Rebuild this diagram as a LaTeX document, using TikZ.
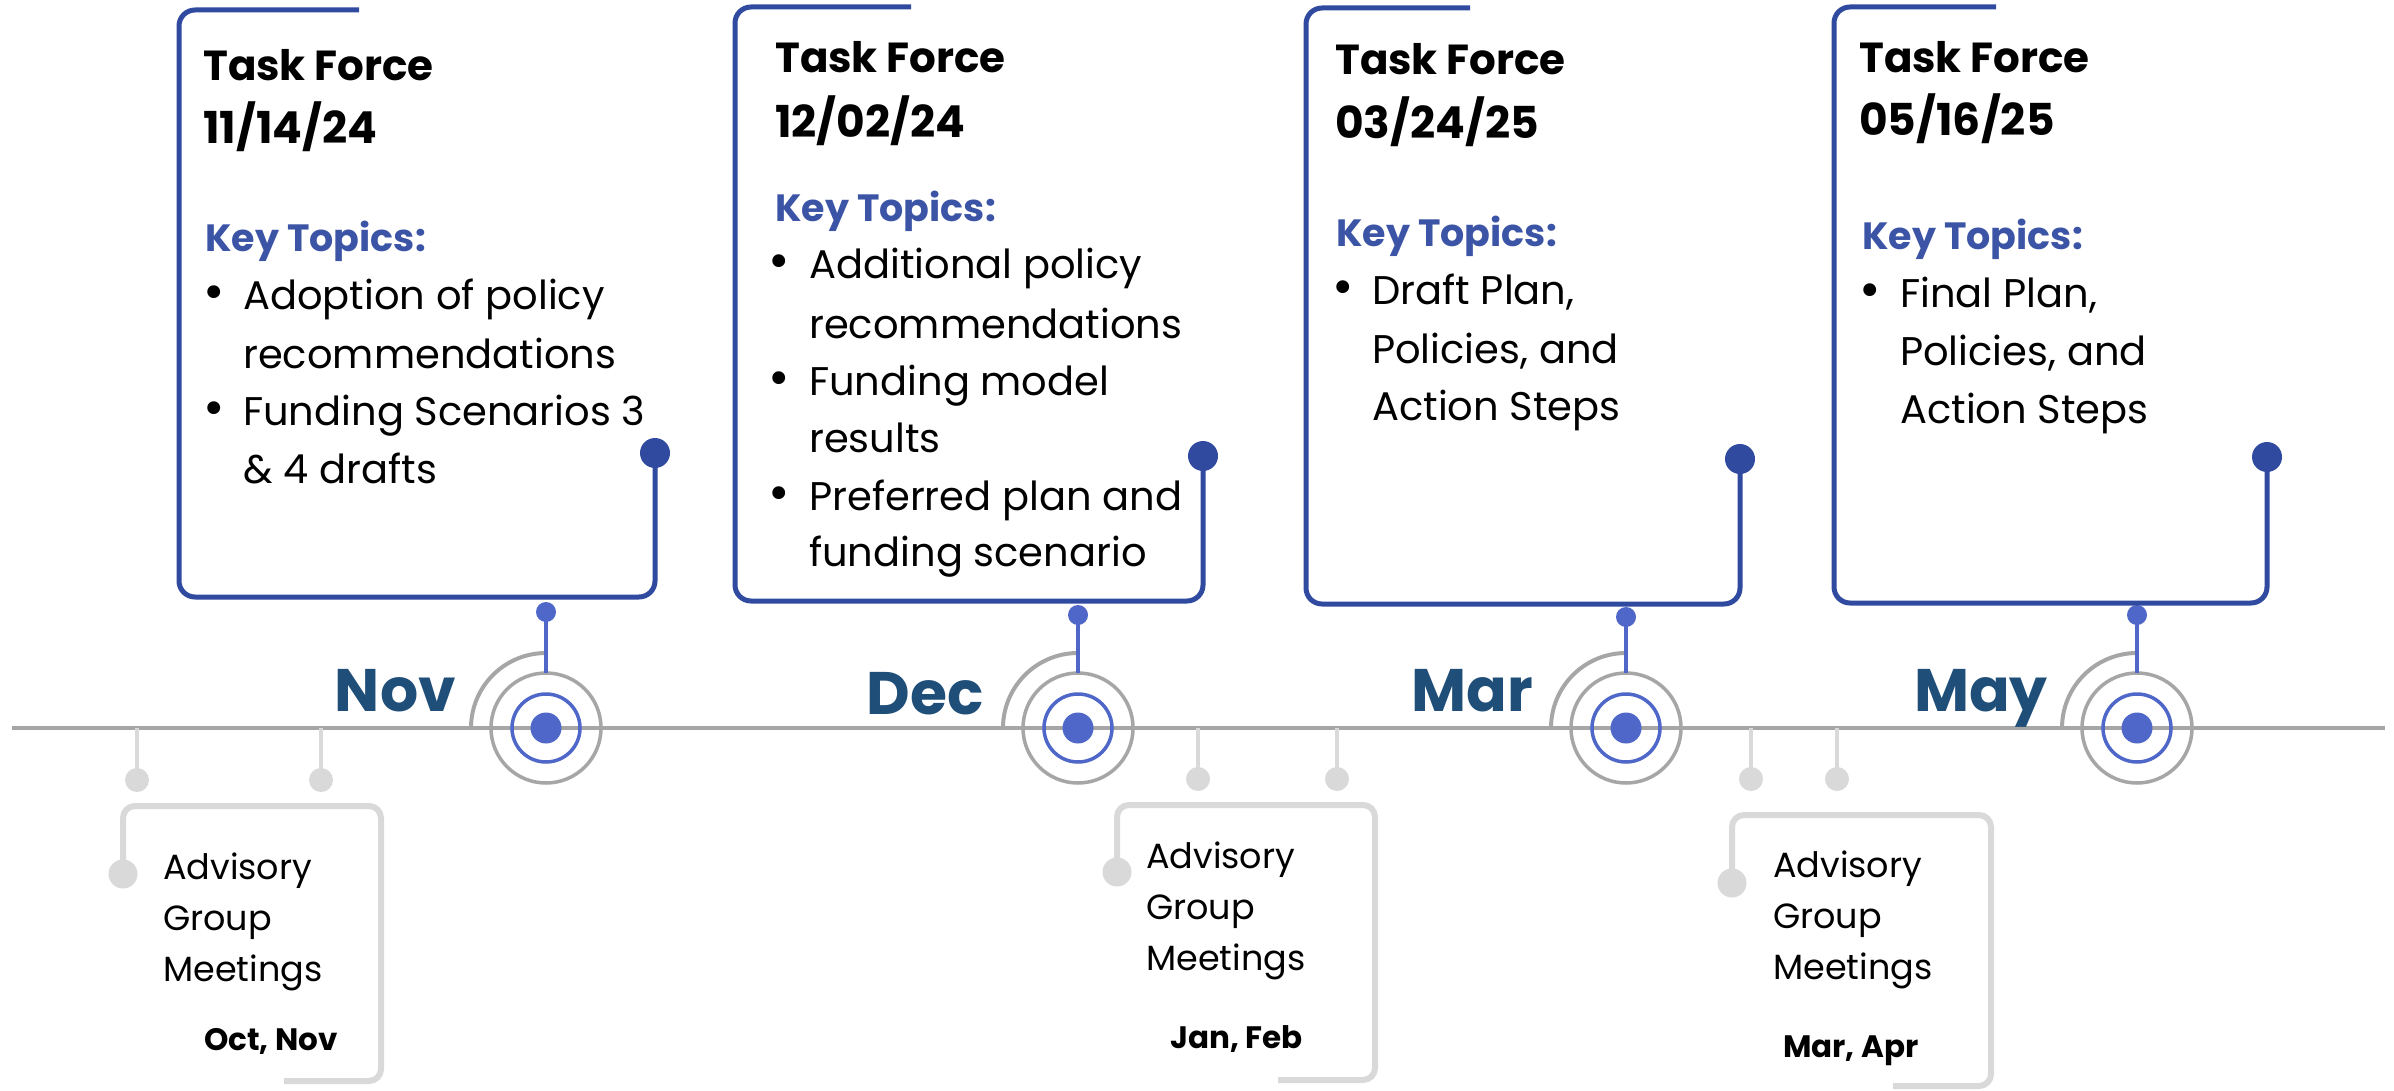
\documentclass[tikz,border=0pt]{standalone}
\usepackage{fontspec}
\setmainfont{Poppins}
\usetikzlibrary{calc}
\definecolor{tfdark}{HTML}{2F4A9F}
\definecolor{tgtblue}{HTML}{4F67C8}
\definecolor{keyblue}{HTML}{3B54A6}
\definecolor{monthblue}{HTML}{1F4E79}
\definecolor{ringgray}{HTML}{A6A6A6}
\definecolor{aggray}{HTML}{D9D9D9}
\tikzset{
  tfbox/.style={draw=tfdark, line width=5pt, rounded corners=16pt},
  agbox/.style={draw=aggray, line width=6pt, rounded corners=12pt},
  agtick/.style={draw=aggray, line width=4pt},
  tfdot/.style={circle, fill=tfdark, inner sep=0pt, minimum size=30pt},
  cdot/.style={circle, fill=tgtblue, inner sep=0pt, minimum size=20pt},
  cline/.style={draw=tgtblue, line width=3.5pt},
  tcore/.style={circle, fill=tgtblue, inner sep=0pt, minimum size=31pt},
  agdot/.style={circle, fill=aggray, inner sep=0pt, minimum size=24pt},
  agdotbig/.style={circle, fill=aggray, inner sep=0pt, minimum size=29pt},
  heading/.style={font=\fontsize{42}{50}\selectfont\bfseries, anchor=base west, inner sep=0pt},
  datet/.style={font=\fontsize{44}{50}\selectfont\bfseries\addfontfeatures{Numbers=Monospaced}, anchor=base west, inner sep=0pt},
  keyt/.style={font=\fontsize{38}{46}\selectfont\bfseries, text=keyblue, anchor=base west, inner sep=0pt},
  body/.style={font=\fontsize{40}{48}\selectfont, anchor=base west, inner sep=0pt},
  bul/.style={font=\fontsize{52}{60}\selectfont, anchor=base, inner sep=0pt},
  month/.style={font=\fontsize{60}{70}\selectfont\bfseries, text=monthblue, anchor=base east, inner sep=0pt},
  agtext/.style={font=\fontsize{35}{42}\selectfont, anchor=base west, inner sep=0pt},
  agdate/.style={font=\fontsize{31}{38}\selectfont\bfseries, anchor=base west, inner sep=0pt},
}
\begin{document}
\begin{tikzpicture}[x=1pt, y=-1pt]
\useasboundingbox[fill=white] (0,0) rectangle (2394,1091);

% timeline
\coordinate (tlL) at (12,728);
\coordinate (tlR) at (2385,728);
\draw[ringgray, line width=3.5pt] (tlL) -- (tlR);

% ---------- targets ----------
\foreach \n/\cx/\cy in {1/546/728, 2/1078/728, 3/1626/728, 4/2137/728}{
  \node[tcore] (t\n) at (\cx,\cy) {};
  \draw[tgtblue, line width=3.5pt] (t\n.center) circle[radius=34pt];
  \draw[ringgray, line width=3.5pt] (t\n.center) circle[radius=55pt];
  \draw[ringgray, line width=4pt] ($(t\n.center)+(-75,0)$) arc[start angle=180, end angle=90, radius=75pt];
  \coordinate (t\n top) at ($(t\n.center)+(0,-55)$);
}

% connector dots from boxes to targets
\node[cdot] (c1) at (546,612) {};
\node[cdot] (c2) at (1078,615) {};
\node[cdot] (c3) at (1626,617) {};
\node[cdot] (c4) at (2137,615) {};
\foreach \n in {1,2,3,4}{ \draw[cline] (c\n.center) -- (t\n top); }

% month labels
\node[month] (m1) at (456,711) {Nov};
\node[month] (m2) at (984,714) {Dec};
\node[month] (m3) at (1533,711) {Mar};
\node[month] (m4) at (2048,711) {May};

% ---------- Task force boxes ----------
% box 1
\node[tfdot] (d1) at (655,453) {};
\draw[tfbox] (359,10) -- (179,10) -- (179,597) -- (655,597) -- (d1.center);
\node[heading] (h1a) at (203,81) {Task Force};
\node[datet] (h1b) at (203,144) {11/14/24};
\node[keyt] (k1) at (205,252) {Key Topics:};
\node[bul] (b1a) at (214,310) {•};
\node[body] (l1a) at (243,310) {Adoption of policy};
\node[body] (l1b) at (243,368) {recommendations};
\node[bul] (b1b) at (214,425) {•};
\node[body] (l1c) at (243,425) {Funding Scenarios 3};
\node[body] (l1d) at (243,483) {\& 4 drafts};

% box 2
\node[tfdot] (d2) at (1203,456) {};
\draw[tfbox] (911,7) -- (735,7) -- (735,601) -- (1203,601) -- (d2.center);
\node[heading] (h2a) at (775,73) {Task Force};
\node[datet] (h2b) at (775,138) {12/02/24};
\node[keyt] (k2) at (775,222) {Key Topics:};
\node[bul] (b2a) at (779,279) {•};
\node[body] (l2a) at (809,279) {Additional policy};
\node[body] (l2b) at (809,338) {recommendations};
\node[bul] (b2b) at (779,395) {•};
\node[body] (l2c) at (809,395) {Funding model};
\node[body] (l2d) at (809,452) {results};
\node[bul] (b2c) at (779,510) {•};
\node[body] (l2e) at (809,510) {Preferred plan and};
\node[body] (l2f) at (809,566) {funding scenario};

% box 3
\node[tfdot] (d3) at (1740,459) {};
\draw[tfbox] (1470,8) -- (1306,8) -- (1306,604) -- (1740,604) -- (d3.center);
\node[heading] (h3a) at (1335,75) {Task Force};
\node[datet] (h3b) at (1335,139) {03/24/25};
\node[keyt] (k3) at (1336,247) {Key Topics:};
\node[bul] (b3a) at (1343,305) {•};
\node[body] (l3a) at (1372,305) {Draft Plan,};
\node[body] (l3b) at (1372,363) {Policies, and};
\node[body] (l3c) at (1372,420) {Action Steps};

% box 4
\node[tfdot] (d4) at (2267,457) {};
\draw[tfbox] (1996,7) -- (1834,7) -- (1834,603) -- (2267,603) -- (d4.center);
\node[heading] (h4a) at (1859,73) {Task Force};
\node[datet] (h4b) at (1859,136) {05/16/25};
\node[keyt] (k4) at (1862,250) {Key Topics:};
\node[bul] (b4a) at (1870,308) {•};
\node[body] (l4a) at (1900,308) {Final Plan,};
\node[body] (l4b) at (1900,366) {Policies, and};
\node[body] (l4c) at (1900,423) {Action Steps};

% ---------- Advisory group boxes ----------
% group 1
\foreach \n/\x in {a/137, b/321}{
  \coordinate (g1\n top) at (\x,728);
  \node[agdot] (g1\n) at (\x,780) {};
  \draw[agtick] (g1\n top) -- (g1\n.center);
}
\node[agdotbig] (g1d) at (123,874) {};
\draw[agbox] (g1d.center) -- (123,806) -- (381,806) -- (381,1081) -- (284,1081);
\node[agtext] (g1t1) at (163,879) {Advisory};
\node[agtext] (g1t2) at (163,930) {Group};
\node[agtext] (g1t3) at (163,981) {Meetings};
\node[agdate] (g1t4) at (204,1050) {Oct, Nov};

% group 2
\foreach \n/\x in {a/1198, b/1337}{
  \coordinate (g2\n top) at (\x,728);
  \node[agdot] (g2\n) at (\x,779) {};
  \draw[agtick] (g2\n top) -- (g2\n.center);
}
\node[agdotbig] (g2d) at (1117,872) {};
\draw[agbox] (g2d.center) -- (1117,805) -- (1375,805) -- (1375,1080) -- (1278,1080);
\node[agtext] (g2t1) at (1146,868) {Advisory};
\node[agtext] (g2t2) at (1146,919) {Group};
\node[agtext] (g2t3) at (1146,970) {Meetings};
\node[agdate] (g2t4) at (1170,1048) {Jan, Feb};

% group 3
\foreach \n/\x in {a/1751, b/1837}{
  \coordinate (g3\n top) at (\x,728);
  \node[agdot] (g3\n) at (\x,779) {};
  \draw[agtick] (g3\n top) -- (g3\n.center);
}
\node[agdotbig] (g3d) at (1732,883) {};
\draw[agbox] (g3d.center) -- (1732,815) -- (1991,815) -- (1991,1086) -- (1893,1086);
\node[agtext] (g3t1) at (1773,877) {Advisory};
\node[agtext] (g3t2) at (1773,928) {Group};
\node[agtext] (g3t3) at (1773,979) {Meetings};
\node[agdate] (g3t4) at (1783,1057) {Mar, Apr};
\end{tikzpicture}
\end{document}
